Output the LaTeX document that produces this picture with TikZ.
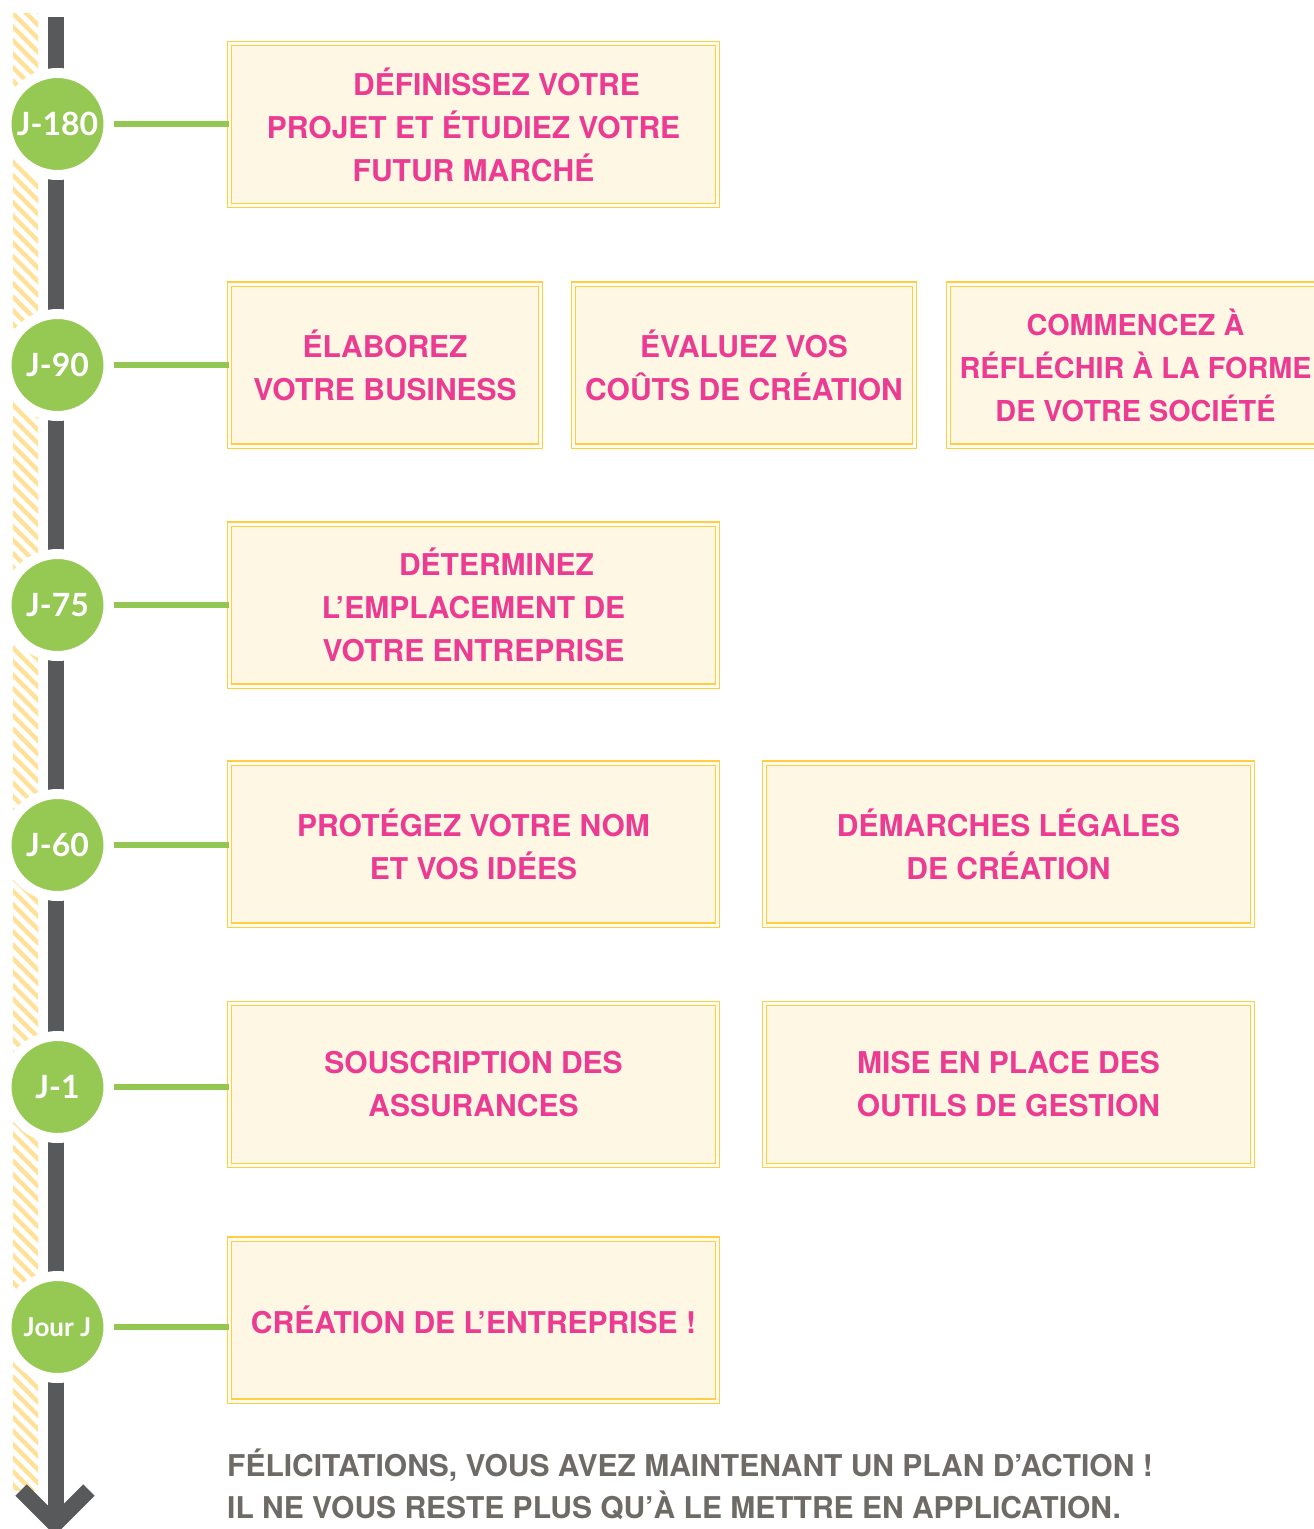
\documentclass[tikz,border=0pt]{standalone}
\usepackage{fontspec}
\setmainfont{TeX Gyre Heros}
\newfontfamily\datefont{Lato}

\definecolor{datefill}{HTML}{96C954}
\definecolor{linkgreen}{HTML}{92C752}
\definecolor{axisgray}{HTML}{58595B}
\definecolor{hatch}{HTML}{FFE19A}
\definecolor{taskfill}{HTML}{FDF7E4}
\definecolor{taskline}{HTML}{FFCF40}
\definecolor{taskpink}{HTML}{EC3B92}
\definecolor{notegray}{HTML}{6E6B67}

\begin{document}
\begin{tikzpicture}[x=1pt,y=-1pt]
	\tikzstyle{date}=[circle,fill=datefill,draw=white,line width=10pt,minimum size=102pt,inner sep=0pt,text=white,font=\datefont\bfseries\fontsize{32}{32}\selectfont]
	\tikzstyle{task}=[rectangle,fill=taskfill,draw=taskline,line width=1.4pt,double=white!55!taskfill,double distance=3pt,minimum height=162pt,inner sep=0pt,align=center,text=taskpink,font=\bfseries\fontsize{30}{43}\selectfont]
	\tikzstyle{link}=[draw=linkgreen,line width=6pt]
	\useasboundingbox (0,0) rectangle (1314,1529);
	\clip (0,0) rectangle (1314,1529);
	% hatched band
	\begin{scope}
		\clip (13,13) rectangle (38,1490);
		\foreach \y in {-40,-26.5,...,1500}
			\draw[hatch,line width=4.5pt] (0,\y) -- (60,\y+60);
	\end{scope}
	% time axis
	\draw[axisgray,line width=16pt] (56,17) -- (56,1516);
	\draw[axisgray,line width=16pt,miter limit=4] (21,1490) -- (55,1524) -- (89,1490);
	% dates
	\node[date](c1) at (57.5,124){J-180};
	\node[date](c2) at (57.5,365){J-90};
	\node[date](c3) at (57.5,605){J-75};
	\node[date](c4) at (57.5,845){J-60};
	\node[date](c5) at (57.5,1087){J-1};
	\node[date,font=\datefont\bfseries\fontsize{26}{26}\selectfont](c6) at (57.5,1327){Jour J};
	% tasks
	\node[task,minimum width=488pt](b1) at (473.5,124.5){\hspace*{46pt}DÉFINISSEZ VOTRE\\PROJET ET ÉTUDIEZ VOTRE\\FUTUR MARCHÉ};
	\node[task,minimum width=311pt](b2) at (385,365){ÉLABOREZ\\VOTRE BUSINESS};
	\node[task,minimum width=341pt](b3) at (744,365){ÉVALUEZ VOS\\COÛTS DE CRÉATION};
	\node[task,minimum width=374pt,font=\bfseries\fontsize{28.8}{43}\selectfont](b4) at (1135.5,365){COMMENCEZ À\\RÉFLÉCHIR À LA FORME\\DE VOTRE SOCIÉTÉ};
	\node[task,minimum width=488pt](b5) at (473.5,605){\hspace*{46pt}DÉTERMINEZ\\L’EMPLACEMENT DE\\VOTRE ENTREPRISE};
	\node[task,minimum width=488pt](b6) at (473.5,844){PROTÉGEZ VOTRE NOM\\ET VOS IDÉES};
	\node[task,minimum width=488pt](b7) at (1008.5,844){DÉMARCHES LÉGALES\\DE CRÉATION};
	\node[task,minimum width=488pt](b8) at (473.5,1084.5){SOUSCRIPTION DES\\ASSURANCES};
	\node[task,minimum width=488pt](b9) at (1008.5,1084.5){MISE EN PLACE DES\\OUTILS DE GESTION};
	\node[task,minimum width=488pt](b10) at (473.5,1320){CRÉATION DE L’ENTREPRISE !};
	% links
	\path[link]
		(c1.east) edge (c1.east -| b1.west)
		(c2.east) edge (c2.east -| b2.west)
		(c3.east) edge (c3.east -| b5.west)
		(c4.east) edge (c4.east -| b6.west)
		(c5.east) edge (c5.east -| b8.west)
		(c6.east) edge (c6.east -| b10.west);
	% closing words
	\node[anchor=base west,align=left,inner sep=0pt,text=notegray,font=\bfseries\fontsize{30}{42}\selectfont](note) at (227,1518){FÉLICITATIONS, VOUS AVEZ MAINTENANT UN PLAN D’ACTION !\\IL NE VOUS RESTE PLUS QU’À LE METTRE EN APPLICATION.};
\end{tikzpicture}
\end{document}
